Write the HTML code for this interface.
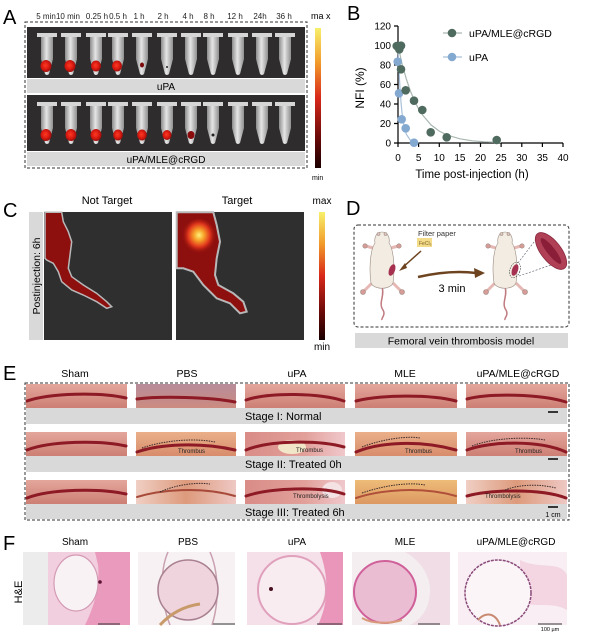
<!DOCTYPE html>
<html><head><meta charset="utf-8"><style>
html,body{margin:0;padding:0;background:#fff;}
svg{display:block;font-family:"Liberation Sans",Arial,sans-serif;}
</style></head><body>
<svg width="600" height="634" viewBox="0 0 600 634" xmlns="http://www.w3.org/2000/svg">
<defs>
<linearGradient id="cbar" x1="0" y1="0" x2="0" y2="1">
<stop offset="0" stop-color="#f7f06a"/><stop offset="0.25" stop-color="#f29a2a"/><stop offset="0.5" stop-color="#d8281a"/><stop offset="0.78" stop-color="#6a0a08"/><stop offset="1" stop-color="#1a0000"/>
</linearGradient>
<linearGradient id="tubeg" x1="0" y1="0" x2="1" y2="0">
<stop offset="0" stop-color="#8c8c8c"/><stop offset="0.45" stop-color="#e6e6e6"/><stop offset="1" stop-color="#8f8f8f"/>
</linearGradient>
<radialGradient id="blob" cx="0.45" cy="0.45" r="0.6">
<stop offset="0" stop-color="#ff3a22"/><stop offset="0.6" stop-color="#d41810"/><stop offset="1" stop-color="#8a0c0a"/>
</radialGradient>
<radialGradient id="hot" cx="0.5" cy="0.45" r="0.5">
<stop offset="0" stop-color="#fff27a"/><stop offset="0.3" stop-color="#f7a22a"/><stop offset="0.65" stop-color="#e0361c"/><stop offset="1" stop-color="#a0120e" stop-opacity="0"/>
</radialGradient>
<g id="tube">
<path d="M-6,4 L6,4 L6,26 L2,41 Q0,43 -2,41 L-6,26 Z" fill="url(#tubeg)"/>
<rect x="-10" y="0" width="20" height="4" fill="#d6d6d6"/>
</g>
<linearGradient id="gPink" x1="0" y1="0" x2="0" y2="1"><stop offset="0" stop-color="#e4a69c"/><stop offset="1" stop-color="#cd7f74"/></linearGradient>
<linearGradient id="gPBS" x1="0" y1="0" x2="0" y2="1"><stop offset="0" stop-color="#b78c9a"/><stop offset="1" stop-color="#cc8b80"/></linearGradient>
<linearGradient id="gOr" x1="0" y1="0" x2="0" y2="1"><stop offset="0" stop-color="#eab08a"/><stop offset="1" stop-color="#d88c6c"/></linearGradient>
<linearGradient id="gYel" x1="0" y1="0" x2="0" y2="1"><stop offset="0" stop-color="#eebc78"/><stop offset="1" stop-color="#dc9862"/></linearGradient>
<linearGradient id="gCream" x1="0" y1="0" x2="1" y2="0"><stop offset="0" stop-color="#f0cfc4"/><stop offset="0.5" stop-color="#dd9a7c"/><stop offset="1" stop-color="#eec8c4"/></linearGradient>
<linearGradient id="gRosy" x1="0" y1="0" x2="1" y2="0"><stop offset="0" stop-color="#d98c88"/><stop offset="0.6" stop-color="#e2a09a"/><stop offset="1" stop-color="#f0c8cc"/></linearGradient>
</defs>

<!-- ===== Panel A ===== -->
<text x="3" y="24" font-size="20">A</text>
<g font-size="8" text-anchor="middle" fill="#222">
<text x="46" y="19">5 min</text><text x="68" y="19">10 min</text><text x="97" y="19">0.25 h</text><text x="118" y="19">0.5 h</text><text x="139" y="19">1 h</text><text x="163" y="19">2 h</text><text x="188" y="19">4 h</text><text x="209" y="19">8 h</text><text x="235" y="19">12 h</text><text x="260" y="19">24h</text><text x="284" y="19">36 h</text>
</g>
<rect x="25" y="22" width="282" height="146" fill="none" stroke="#333" stroke-dasharray="3,2"/>
<rect x="27" y="27" width="278" height="51" fill="#2e2c2c"/>
<rect x="27" y="79" width="278" height="14" fill="#d9d9d9"/>
<text x="166" y="90" font-size="10" text-anchor="middle">uPA</text>
<rect x="27" y="95" width="278" height="56" fill="#2e2c2c"/>
<rect x="27" y="152" width="278" height="14" fill="#d9d9d9"/>
<text x="166" y="163" font-size="10" text-anchor="middle">uPA/MLE@cRGD</text>
<!-- row1 tubes -->
<g>
<use href="#tube" x="47" y="33"/><use href="#tube" x="71" y="33"/><use href="#tube" x="96" y="33"/><use href="#tube" x="118" y="33"/><use href="#tube" x="142" y="33"/><use href="#tube" x="167" y="33"/><use href="#tube" x="191" y="33"/><use href="#tube" x="213" y="33"/><use href="#tube" x="238" y="33"/><use href="#tube" x="262" y="33"/><use href="#tube" x="285" y="33"/>
<ellipse cx="46" cy="66" rx="5.5" ry="6" fill="url(#blob)"/>
<ellipse cx="70" cy="66" rx="5.5" ry="6" fill="url(#blob)"/>
<ellipse cx="96" cy="66" rx="5" ry="5.5" fill="url(#blob)"/>
<ellipse cx="117" cy="66" rx="5" ry="5.5" fill="url(#blob)"/>
<ellipse cx="142" cy="65" rx="2" ry="2.5" fill="#7a0a0a"/>
<ellipse cx="167" cy="67" rx="1" ry="1" fill="#222"/>
</g>
<g>
<use href="#tube" x="47" y="102"/><use href="#tube" x="71" y="102"/><use href="#tube" x="96" y="102"/><use href="#tube" x="118" y="102"/><use href="#tube" x="142" y="102"/><use href="#tube" x="167" y="102"/><use href="#tube" x="191" y="102"/><use href="#tube" x="213" y="102"/><use href="#tube" x="238" y="102"/><use href="#tube" x="262" y="102"/><use href="#tube" x="285" y="102"/>
<ellipse cx="46" cy="135" rx="5.5" ry="6" fill="url(#blob)"/>
<ellipse cx="71" cy="135" rx="5.5" ry="6" fill="url(#blob)"/>
<ellipse cx="96" cy="135" rx="5.5" ry="6" fill="url(#blob)"/>
<ellipse cx="118" cy="135" rx="4.8" ry="5.5" fill="url(#blob)"/>
<ellipse cx="142" cy="135" rx="4.8" ry="5.5" fill="url(#blob)"/>
<ellipse cx="167" cy="135" rx="4.5" ry="5" fill="url(#blob)"/>
<ellipse cx="191" cy="135" rx="3.5" ry="4" fill="#8a0c0c"/>
<ellipse cx="213" cy="135" rx="1.5" ry="1.5" fill="#222"/>
</g>
<rect x="315" y="28" width="6" height="140" fill="url(#cbar)"/>
<text x="311" y="19" font-size="9">ma x</text>
<text x="312" y="180" font-size="7">min</text>

<!-- ===== Panel B ===== -->
<text x="347" y="20" font-size="20">B</text>
<g stroke="#000" stroke-width="1.2" fill="none">
<path d="M398,26 V143 H563"/>
<path d="M394,143H398M394,123.5H398M394,104H398M394,84.5H398M394,65H398M394,45.5H398M394,26H398"/>
<path d="M398,143V147M418.6,143V147M439.3,143V147M459.9,143V147M480.5,143V147M501.1,143V147M521.8,143V147M542.4,143V147M563,143V147"/>
</g>
<g font-size="10" text-anchor="end">
<text x="391" y="146.5">0</text><text x="391" y="127">20</text><text x="391" y="107.5">40</text><text x="391" y="88">60</text><text x="391" y="68.5">80</text><text x="391" y="49">100</text><text x="391" y="29.5">120</text>
</g>
<g font-size="10" text-anchor="middle">
<text x="398" y="161">0</text><text x="418.6" y="161">5</text><text x="439.3" y="161">10</text><text x="459.9" y="161">15</text><text x="480.5" y="161">20</text><text x="501.1" y="161">25</text><text x="521.8" y="161">30</text><text x="542.4" y="161">35</text><text x="563" y="161">40</text>
</g>
<text x="472" y="178" font-size="11.5" text-anchor="middle">Time post-injection (h)</text>
<text transform="translate(364,88) rotate(-90)" font-size="12" text-anchor="middle">NFI (%)</text>
<!-- curves -->
<path d="M398,45.5 L402.1,64 L406.3,78.9 L410.4,91 L414.5,100.9 L418.6,108.9 L422.8,115.3 L431,124.9 L439.3,131.1 L447.5,135.2 L459.9,138.8 L472.3,140.8 L484.6,141.8 L501,142.5" fill="none" stroke="#a9b8b0" stroke-width="1.2"/>
<path d="M398,45.5 L399,70.9 L400.1,89.5 L401.1,103.3 L402.1,113.6 L404.2,126.9 L406.3,134.1 L410.4,140.4 L414.5,142.2 L418.6,143" fill="none" stroke="#a8c0da" stroke-width="1.2"/>
<g fill="#84a9d0">
<circle cx="397.7" cy="61.7" r="4.3"/><circle cx="399" cy="93.3" r="4.3"/><circle cx="401.7" cy="119.3" r="4.3"/><circle cx="405.7" cy="128.3" r="4.3"/><circle cx="414" cy="142.7" r="4.3"/>
</g>
<g fill="#4f6a5e">
<circle cx="396.7" cy="46" r="4.3"/><circle cx="399.3" cy="49.3" r="4.3"/><circle cx="401" cy="45.7" r="4.3"/><circle cx="401" cy="69.3" r="4.3"/><circle cx="405.7" cy="90.3" r="4.3"/><circle cx="414" cy="100.7" r="4.3"/><circle cx="422.3" cy="110" r="4.3"/><circle cx="430.7" cy="132.3" r="4.3"/><circle cx="446.7" cy="137.3" r="4.3"/><circle cx="496.7" cy="140" r="4.3"/>
</g>
<line x1="443" y1="33" x2="462" y2="33" stroke="#a9b8b0" stroke-width="1.2"/><circle cx="452" cy="33" r="4.3" fill="#4f6a5e"/>
<text x="469" y="37" font-size="10.5">uPA/MLE@cRGD</text>
<line x1="443" y1="57" x2="462" y2="57" stroke="#a8c0da" stroke-width="1.2"/><circle cx="452" cy="57" r="4.3" fill="#84a9d0"/>
<text x="469" y="61" font-size="10.5">uPA</text>

<!-- ===== Panel C ===== -->
<text x="3" y="217" font-size="20">C</text>
<text x="107" y="204" font-size="11" text-anchor="middle">Not Target</text>
<text x="237" y="204" font-size="11" text-anchor="middle">Target</text>
<rect x="29" y="212" width="14" height="128" fill="#d9d9d9"/>
<text transform="translate(40,276) rotate(-90)" font-size="10.5" text-anchor="middle">Postinjection: 6h</text>
<rect x="44" y="212" width="128" height="128" fill="#2f2f2f"/>
<rect x="176" y="212" width="128" height="128" fill="#2f2f2f"/>
<polygon points="45,212.3 61.7,212.3 63.3,221.7 68.3,231.7 71.7,241.7 70,255 68.3,268.3 71.7,276.7 83.3,285 96.7,293.3 106.7,301.7 111.7,306.7 106.7,308.3 96.7,301.7 83.3,295 71.7,290 61.7,281.7 58.3,271.7 53.3,263.3 46.7,260 45,258.3" fill="#8e100e" stroke="#b8b8b8" stroke-width="1.5"/>
<polygon points="176.7,212.3 213.3,212.3 216.7,225 220,241.7 216.7,258.3 215,275 218.3,285 233.3,293.3 243.3,301.7 246.7,311.7 240,313.3 230,303.3 216.7,298.3 203.3,285 193.3,271.7 183.3,268.3 176.7,268.3" fill="#8e100e" stroke="#b8b8b8" stroke-width="2"/>
<ellipse cx="199" cy="237" rx="17" ry="18" fill="url(#hot)"/>
<rect x="319" y="212" width="6" height="128" fill="url(#cbar)"/>
<text x="322" y="204" font-size="10" text-anchor="middle">max</text>
<text x="322" y="350" font-size="10" text-anchor="middle">min</text>

<!-- ===== Panel D ===== -->
<text x="346" y="215" font-size="20">D</text>
<rect x="354" y="225" width="215" height="102" rx="4" fill="none" stroke="#333" stroke-dasharray="3,2"/>
<rect x="355" y="333" width="213" height="15" fill="#d9d9d9"/>
<text x="461" y="344.5" font-size="10.5" text-anchor="middle">Femoral vein thrombosis model</text>
<g id="mouse" stroke="#9a8a80" stroke-width="0.6">
<path d="M382,287 C385,296 378,303 383,310 C386,315 381,318 382,320" fill="none" stroke="#c07a80" stroke-width="1.5"/>
<path d="M366,246 L373,248 M398,246 L391,248 M364,291 L372,283 M401,291 L393,283" stroke="#e6b8b4" stroke-width="3"/>
<circle cx="365" cy="246" r="2.2" fill="#d89c98"/><circle cx="399" cy="246" r="2.2" fill="#d89c98"/>
<circle cx="363" cy="292" r="2.5" fill="#d89c98"/><circle cx="402" cy="292" r="2.5" fill="#d89c98"/>
<path d="M382,232 C376,232 374,238 375,243 C370,250 369,270 371,283 C374,290 390,290 393,283 C395,270 394,250 389,243 C390,238 388,232 382,232 Z" fill="#f3ece2"/>
<circle cx="378.5" cy="234" r="1.5" fill="#e0c8c0"/><circle cx="385.5" cy="234" r="1.5" fill="#e0c8c0"/>
</g>
<ellipse cx="392" cy="270" rx="3" ry="6" transform="rotate(20 392 270)" fill="#a53050"/>
<text x="418" y="236" font-size="7.5" fill="#333">Filter paper</text>
<rect x="417" y="238" width="15" height="9" fill="#f3dd8a"/>
<text x="419" y="245" font-size="5" fill="#7a5a20">FeCl₃</text>
<path d="M421,251 L402,268" stroke="#6e4420" stroke-width="1.5"/>
<path d="M399,271 L405,263 L407,268 Z" fill="#6e4420"/>
<path d="M418,277 C440,272 460,271 476,273" stroke="#6e4420" stroke-width="2.5" fill="none"/>
<path d="M485,273 L474,268 L475,278 Z" fill="#6e4420"/>
<text x="452" y="292" font-size="11" text-anchor="middle">3 min</text>
<use href="#mouse" x="123" y="0"/>
<ellipse cx="515" cy="270" rx="3" ry="6" transform="rotate(20 515 270)" fill="#a53050"/>
<ellipse cx="515" cy="270" rx="5" ry="8" transform="rotate(20 515 270)" fill="none" stroke="#333" stroke-width="0.6" stroke-dasharray="1.5,1"/>
<path d="M518,263 L537,238 M519,276 L560,262" stroke="#556" stroke-width="0.6" stroke-dasharray="2,1.5"/>
<ellipse cx="551" cy="251" rx="22" ry="10" transform="rotate(52 551 251)" fill="#b04056" stroke="#8a2a40" stroke-width="0.8"/>
<ellipse cx="551" cy="251" rx="16" ry="4" transform="rotate(52 551 251)" fill="#8a1e38"/>

<!-- ===== Panel E ===== -->
<text x="3" y="380" font-size="20">E</text>
<g font-size="10.5" text-anchor="middle">
<text x="75" y="377">Sham</text><text x="187" y="377">PBS</text><text x="297" y="377">uPA</text><text x="405" y="377">MLE</text><text x="518" y="377">uPA/MLE@cRGD</text>
</g>
<rect x="25" y="383" width="544" height="137" fill="none" stroke="#333" stroke-dasharray="3,2"/>
<rect x="26" y="408" width="541" height="16" fill="#d9d9d9"/>
<rect x="26" y="456" width="541" height="16" fill="#d9d9d9"/>
<rect x="26" y="504" width="541" height="15" fill="#d9d9d9"/>
<g font-size="11">
<text x="245" y="420">Stage I: Normal</text>
<text x="245" y="468">Stage II: Treated 0h</text>
<text x="245" y="516">Stage III: Treated 6h</text>
</g>
<!-- row1 -->
<rect x="26" y="384" width="101" height="24" fill="url(#gPink)"/>
<rect x="136" y="384" width="100" height="24" fill="url(#gPBS)"/>
<rect x="245" y="384" width="100" height="24" fill="url(#gPink)"/>
<rect x="355" y="384" width="102" height="24" fill="url(#gPink)"/>
<rect x="466" y="384" width="101" height="24" fill="url(#gPink)"/>
<!-- row2 -->
<rect x="26" y="432" width="101" height="24" fill="url(#gPink)"/>
<rect x="136" y="432" width="100" height="24" fill="url(#gOr)"/>
<rect x="245" y="432" width="100" height="24" fill="url(#gRosy)"/>
<ellipse cx="292" cy="447" rx="14" ry="7" fill="#f2e6c8"/>
<rect x="355" y="432" width="102" height="24" fill="url(#gOr)"/>
<rect x="466" y="432" width="101" height="24" fill="url(#gPink)"/>
<!-- row3 -->
<rect x="26" y="480" width="101" height="24" fill="url(#gPink)"/>
<rect x="136" y="480" width="100" height="24" fill="url(#gCream)"/>
<rect x="245" y="480" width="100" height="24" fill="url(#gRosy)"/>
<ellipse cx="332" cy="490" rx="10" ry="8" fill="#f4e2e4"/>
<rect x="355" y="480" width="102" height="24" fill="url(#gYel)"/>
<rect x="466" y="480" width="101" height="24" fill="url(#gCream)"/>
<g fill="none" stroke="#8d1a25" stroke-width="3" stroke-linecap="round">
<path d="M27,401 C50,393 100,392 126,398"/>
<path d="M137,399 C160,396 210,397 235,402"/>
<path d="M246,400 C270,392 320,393 344,401"/>
<path d="M356,401 C380,395 430,394 456,401"/>
<path d="M467,399 C490,393 540,394 566,402"/>
<path d="M27,450 C50,441 100,440 126,446"/>
<path d="M137,452 C160,444 200,442 235,450"/>
<path d="M246,450 C270,440 320,440 344,447"/>
<path d="M356,452 C380,442 420,440 456,450"/>
<path d="M467,450 C490,441 540,440 566,452"/>
<path d="M27,498 C50,489 100,488 126,494"/>
<path d="M137,497 C160,490 200,486 235,496" stroke="#a84a3a" stroke-width="2"/>
<path d="M246,496 C270,488 320,486 344,494"/>
<path d="M356,498 C380,490 420,486 456,496" stroke="#b0503a" stroke-width="2"/>
<path d="M467,496 C490,490 540,488 566,498"/>
</g>
<g fill="none" stroke="#3a2a2a" stroke-width="1" stroke-dasharray="1.5,1">
<path d="M142,448 C165,440 195,438 215,442"/>
<path d="M362,447 C385,438 410,436 420,438"/>
<path d="M472,446 C495,437 530,437 545,440"/>
<path d="M160,492 C175,485 195,482 210,484"/>
<path d="M362,493 C385,485 410,482 425,485"/>
<path d="M505,490 C520,484 540,484 556,488"/>
</g>
<g font-size="6" fill="#222">
<text x="178" y="453">Thrombus</text>
<text x="296" y="452">Thrombus</text>
<text x="405" y="453">Thrombus</text>
<text x="515" y="453">Thrombus</text>
<text x="293" y="498">Thrombolysis</text>
<text x="485" y="498">Thrombolysis</text>
</g>
<g stroke="#000" stroke-width="1.5">
<line x1="548" y1="412" x2="558" y2="412"/><line x1="548" y1="459" x2="558" y2="459"/><line x1="548" y1="507" x2="558" y2="507"/>
</g>
<text x="553" y="517" font-size="7" text-anchor="middle">1 cm</text>

<!-- ===== Panel F ===== -->
<text x="3" y="550" font-size="20">F</text>
<g font-size="10" text-anchor="middle">
<text x="75" y="545">Sham</text><text x="188" y="545">PBS</text><text x="297" y="545">uPA</text><text x="405" y="545">MLE</text><text x="516" y="545">uPA/MLE@cRGD</text>
</g>
<text transform="translate(22,592) rotate(-90)" font-size="11" text-anchor="middle">H&amp;E</text>
<!-- Sham -->
<rect x="23" y="552" width="107" height="73" fill="#ececec"/>
<rect x="48" y="552" width="82" height="73" fill="#f2cfde"/>
<path d="M95,552 L130,552 L130,625 L85,625 C95,605 100,585 98,565 Z" fill="#ea9bbd"/>
<ellipse cx="76" cy="583" rx="22" ry="28" fill="#f8f2f5" stroke="#d49ab4" stroke-width="1.2"/>
<circle cx="100" cy="582" r="1.8" fill="#5a1030"/>
<line x1="98" y1="624" x2="120" y2="624" stroke="#333" stroke-width="1"/>
<!-- PBS -->
<rect x="138" y="552" width="97" height="73" fill="#f7f1f3"/>
<path d="M168,552 C160,570 160,600 170,625 M210,552 C218,570 220,600 212,625" stroke="#c8a0b0" stroke-width="1.5" fill="none"/>
<circle cx="188" cy="590" r="30" fill="#efd4de" stroke="#a88090" stroke-width="1.5"/>
<path d="M160,625 C172,612 185,606 200,604" stroke="#c89a6a" stroke-width="3" fill="none"/>
<line x1="213" y1="624" x2="235" y2="624" stroke="#333" stroke-width="1"/>
<!-- uPA -->
<rect x="247" y="552" width="96" height="73" fill="#f5dfe8"/>
<circle cx="292" cy="590" r="34" fill="#f8ecf1" stroke="#e0a0bc" stroke-width="2"/>
<path d="M320,552 L343,552 L343,625 L318,625 C330,600 328,575 320,552 Z" fill="#e996ba"/>
<circle cx="271" cy="589" r="2" fill="#4a1020"/>
<line x1="317" y1="624" x2="342" y2="624" stroke="#333" stroke-width="1"/>
<!-- MLE -->
<rect x="352" y="552" width="98" height="73" fill="#f4eef0"/>
<path d="M405,552 C420,560 430,575 430,590 C430,610 420,620 410,625 L450,625 L450,552 Z" fill="#f0dde6"/>
<circle cx="385" cy="592" r="31" fill="#ebbdd2" stroke="#d0609a" stroke-width="2"/>
<path d="M362,618 C372,624 390,624 402,620" stroke="#d89a7a" stroke-width="2" fill="none"/>
<line x1="418" y1="624" x2="440" y2="624" stroke="#333" stroke-width="1"/>
<!-- cRGD -->
<rect x="458" y="552" width="109" height="73" fill="#f8eef3"/>
<path d="M520,560 C540,570 560,560 567,575 L567,610 C550,600 530,610 520,600 Z" fill="#f3d6e2"/>
<circle cx="498" cy="593" r="33" fill="#fbf5f8" stroke="#8a4a7a" stroke-width="1.5" stroke-dasharray="3,1"/>
<path d="M478,620 C485,612 495,612 500,625" stroke="#c88a70" stroke-width="2" fill="none"/>
<line x1="538" y1="624" x2="562" y2="624" stroke="#333" stroke-width="1"/>
<text x="550" y="631" font-size="5.5" text-anchor="middle">100 µm</text>
</svg>
</body></html>
